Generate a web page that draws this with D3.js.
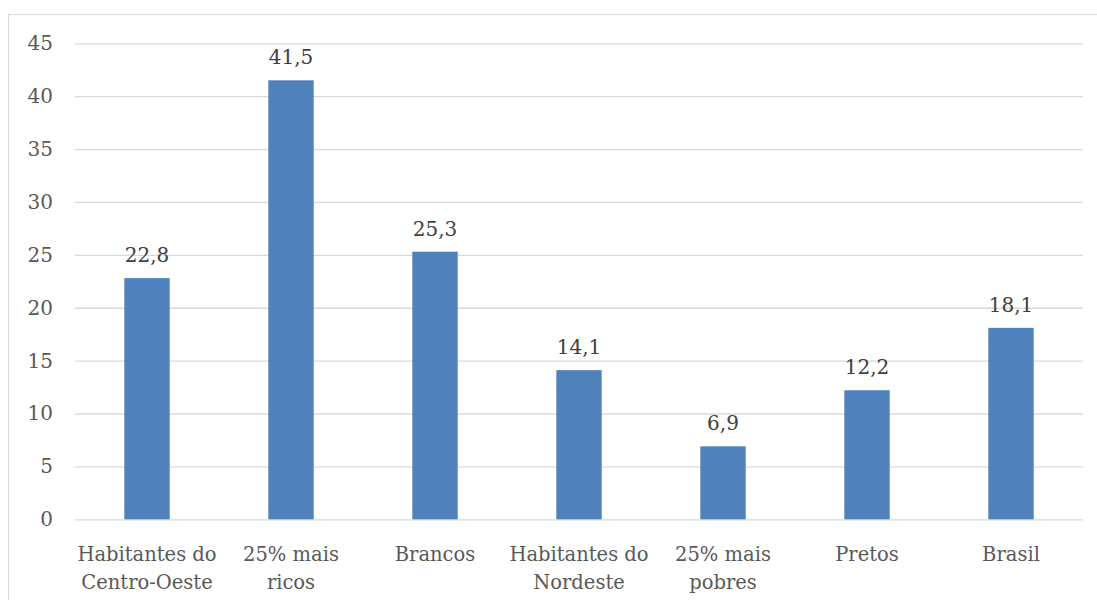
<!DOCTYPE html>
<html>
<head>
<meta charset="utf-8">
<script src="https://cdn.jsdelivr.net/npm/d3@7"></script>
<style>
  html, body { margin: 0; padding: 0; background: #ffffff; }
  svg { display: block; }
</style>
</head>
<body>
<svg id="chart" width="1097" height="600"></svg>
<script>
// Categories (each label split into its display lines) and their values
const categories = [
  ["Habitantes do", "Centro-Oeste"],
  ["25% mais", "ricos"],
  ["Brancos"],
  ["Habitantes do", "Nordeste"],
  ["25% mais", "pobres"],
  ["Pretos"],
  ["Brasil"]
];
const values = [22.8, 41.5, 25.3, 14.1, 6.9, 12.2, 18.1];
const yTicks = [0, 5, 10, 15, 20, 25, 30, 35, 40, 45];

const svg = d3.select("#chart");
const fontFamily = "'DejaVu Serif', serif";

const plot = { left: 75, right: 1083, top: 43.3, bottom: 519.3 };

// Outer chart frame
svg.append("rect")
  .attr("x", 8.5).attr("y", 14.5)
  .attr("width", 1100).attr("height", 600)
  .attr("fill", "none")
  .attr("stroke", "#d9d9d9")
  .attr("stroke-width", 1);

const keys = categories.map((c, i) => i);
const x = d3.scaleBand()
  .domain(keys)
  .range([plot.left, plot.right])
  .paddingInner(0.685)
  .paddingOuter(0.685 / 2);

const y = d3.scaleLinear()
  .domain([0, 45])
  .range([plot.bottom, plot.top]);

// Horizontal gridlines with the value axis labels
const yAxis = d3.axisLeft(y)
  .tickValues(yTicks)
  .tickSize(-(plot.right - plot.left))
  .tickPadding(22)
  .tickFormat(d3.format("d"));

const gy = svg.append("g")
  .attr("transform", `translate(${plot.left},0)`)
  .call(yAxis);
gy.select(".domain").remove();
gy.selectAll(".tick line")
  .attr("stroke", "#d9d9d9")
  .attr("stroke-width", 1.3);
gy.selectAll(".tick text")
  .attr("fill", "#595959")
  .style("font-family", fontFamily)
  .style("font-size", "20px");

// Bars
svg.append("g")
  .selectAll("rect")
  .data(values)
  .join("rect")
  .attr("x", (d, i) => x(i))
  .attr("y", d => y(d))
  .attr("width", x.bandwidth())
  .attr("height", d => y(0) - y(d))
  .attr("fill", "#4f81bd");

// Value labels above the bars
svg.append("g")
  .selectAll("text")
  .data(values)
  .join("text")
  .attr("x", (d, i) => x(i) + x.bandwidth() / 2)
  .attr("y", d => y(d) - 16)
  .attr("text-anchor", "middle")
  .attr("fill", "#404040")
  .style("font-family", fontFamily)
  .style("font-size", "20px")
  .text(d => d3.format(".1f")(d).replace(".", ","));

// Category labels, one or two lines each
const cat = svg.append("g")
  .selectAll("text")
  .data(categories)
  .join("text")
  .attr("x", (d, i) => x(i) + x.bandwidth() / 2)
  .attr("y", 561)
  .attr("text-anchor", "middle")
  .attr("fill", "#595959")
  .style("font-family", fontFamily)
  .style("font-size", "19.5px");
cat.selectAll("tspan")
  .data(d => d)
  .join("tspan")
  .attr("x", function () { return this.parentNode.getAttribute("x"); })
  .attr("dy", (d, j) => j === 0 ? 0 : 28)
  .text(d => d);
</script>
</body>
</html>
